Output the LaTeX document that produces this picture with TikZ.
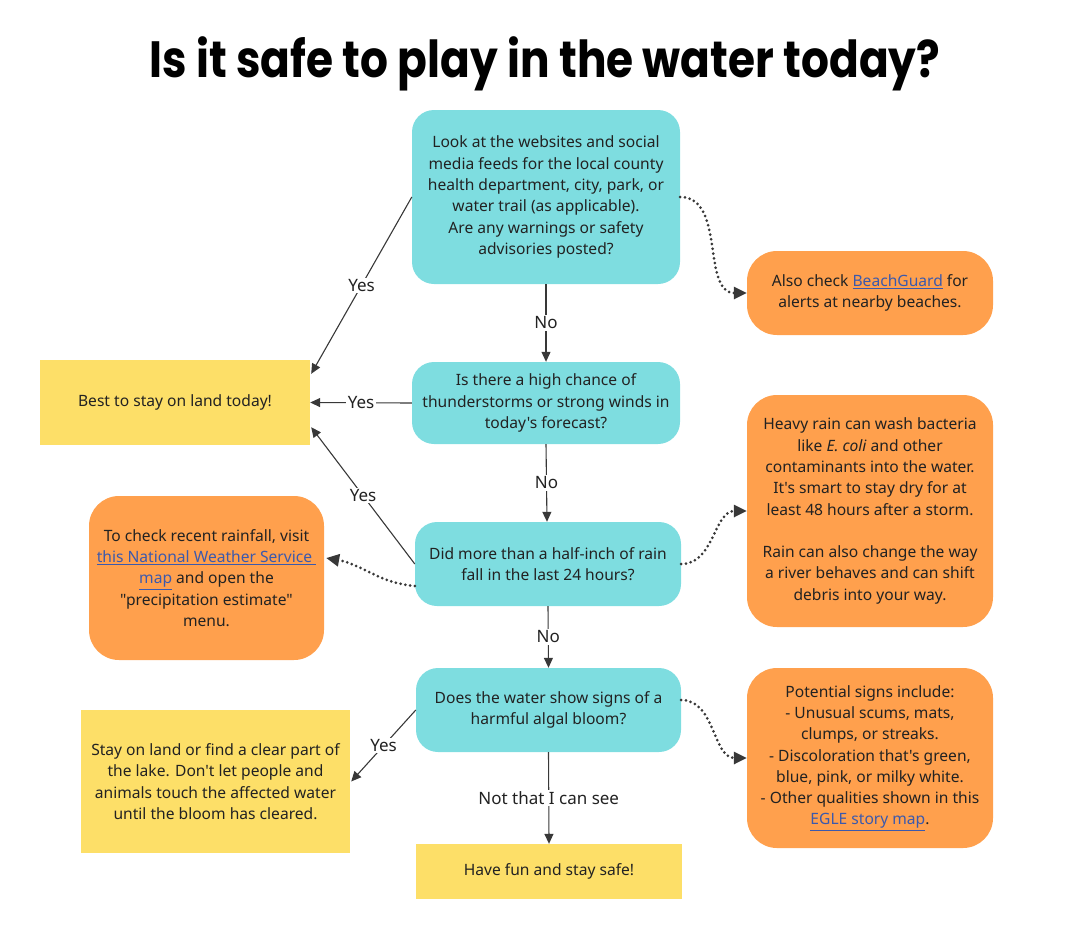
\documentclass[tikz,border=0pt]{standalone}
\usepackage{fontspec}
\newfontfamily\bodyfont{Noto Sans}
\newfontfamily\titlefont[FakeStretch=0.86]{Poppins}
\usepackage{tikz}
\usetikzlibrary{arrows.meta,positioning,calc}
\definecolor{quest}{RGB}{126,221,224}
\definecolor{note}{RGB}{255,160,77}
\definecolor{stop}{RGB}{253,223,104}
\definecolor{ink}{RGB}{34,34,34}
\definecolor{linkblue}{RGB}{59,89,173}
\newcommand{\lnk}[1]{{\color{linkblue}\underline{#1}}}

\begin{document}
\begin{tikzpicture}[x=1pt,y=-1pt,
  every node/.style={text=ink,font=\bodyfont\fontsize{15.6}{21.3}\selectfont},
  question/.style={fill=quest,rounded corners=22pt,align=center,minimum width=268pt},
  notebox/.style={fill=note,rounded corners=30pt,align=center,minimum width=246pt},
  stopbox/.style={fill=stop,align=center},
  yesno/.style={fill=white,inner sep=1.5pt,midway,font=\bodyfont\fontsize{17}{20}\selectfont},
  flow/.style={draw=ink!90,line width=1.1pt,-{Triangle[length=10pt,width=9pt]}},
  hint/.style={draw=ink!90,line width=3pt,line cap=round,dash pattern=on 0pt off 4.8pt,-{Triangle[length=13pt,width=12pt]}}]
\useasboundingbox (0,0) rectangle (1067,937);
\node[font=\titlefont\bfseries\fontsize{51}{56}\selectfont,text=black] (title) at (545,64) {Is it safe to play in the water today?};
% questions
\node[question,minimum height=174pt] (web) at (546,197) {Look at the websites and social\\media feeds for the local county\\health department, city, park, or\\water trail (as applicable).\\Are any warnings or safety\\advisories posted?};
\node[question,minimum height=82pt] (storm) at (546,403) {Is there a high chance of\\thunderstorms or strong winds in\\today's forecast?};
\node[question,minimum height=84pt,minimum width=266pt] (rain) at (548,564) {Did more than a half-inch of rain\\fall in the last 24 hours?};
\node[question,minimum height=84pt,minimum width=265pt] (algae) at (548.5,710) {Does the water show signs of a\\harmful algal bloom?};
% notes
\node[notebox,minimum height=84pt] (beach) at (870,293) {Also check \lnk{BeachGuard} for\\alerts at nearby beaches.};
\node[notebox,minimum height=232pt] (heavy) at (870,511) {Heavy rain can wash bacteria\\like \textit{E. coli} and other\\contaminants into the water.\\It's smart to stay dry for at\\least 48 hours after a storm.\\[21.3pt]Rain can also change the way\\a river behaves and can shift\\debris into your way.};
\node[notebox,minimum height=164pt,minimum width=235pt] (nws) at (206.5,578) {To check recent rainfall, visit\\\lnk{this National Weather Service\ }\\\lnk{map} and open the\\"precipitation estimate"\\menu.};
\node[notebox,minimum height=180pt] (signs) at (870,758) {Potential signs include:\\- Unusual scums, mats,\\clumps, or streaks.\\- Discoloration that's green,\\blue, pink, or milky white.\\- Other qualities shown in this\\\lnk{EGLE story map}.};
% outcomes
\node[stopbox,minimum width=270pt,minimum height=85pt] (land) at (175,402.5) {Best to stay on land today!};
\node[stopbox,minimum width=269pt,minimum height=143pt] (lake) at (215.5,781.5) {Stay on land or find a clear part of\\the lake. Don't let people and\\animals touch the affected water\\until the bloom has cleared.};
\node[stopbox,minimum width=266pt,minimum height=55pt] (fun) at (549,871.5) {Have fun and stay safe!};
% main flow
\draw[flow] (web.west) -- node[yesno] {Yes} ($(land.north east)+(1,14)$);
\draw[flow] (web.south) -- node[yesno] {No} (storm.north);
\draw[flow] (storm.west) -- node[yesno] {Yes} (land.east);
\draw[flow] (storm.south) -- node[yesno] {No} ($(rain.north)+(-1,0)$);
\draw[flow] (rain.west) -- node[yesno] {Yes} ($(land.south east)+(1,-18)$);
\draw[flow] (rain.south) -- node[yesno] {No} (algae.north);
\draw[flow] (algae.west) -- node[yesno] {Yes} ($(lake.east)+(1,0)$);
\draw[flow] (algae.south) -- node[yesno] {Not that I can see} (fun.north);
% hints
\draw[hint] (web.east) to[out=0,in=180] (beach.west);
\draw[hint] ($(rain.west)+(0,22)$) to[out=175,in=-10] ($(nws.east)+(2,-20)$);
\draw[hint] (rain.east) to[out=0,in=180] (heavy.west);
\draw[hint] ($(algae.east)+(0,-10)$) to[out=0,in=180] (signs.west);
\end{tikzpicture}
\end{document}
